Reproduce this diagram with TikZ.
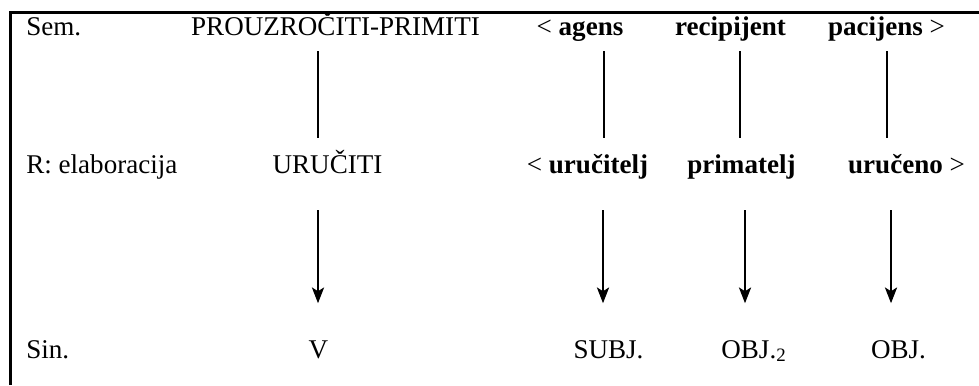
\documentclass[tikz,border=0pt]{standalone}
\usepackage{fontspec}
\setmainfont{Liberation Serif}
\usetikzlibrary{arrows.meta, calc}

\begin{document}
\begin{tikzpicture}[x=0.02cm, y=-0.02cm, >={Stealth[length=9pt, width=7pt, inset=2.2pt]}]
\fontsize{15.4}{18}\selectfont
\tikzset{lbl/.style={anchor=base, inner sep=0pt, text height=11pt, text depth=3pt},
  rowname/.style={lbl, anchor=base west},
  link/.style={line width=0.6pt, shorten <=5.5pt, shorten >=8.8pt},
  maps/.style={->, line width=0.6pt, shorten <=18pt, shorten >=20pt}}
\useasboundingbox (0,0) rectangle (979,385);
% frame
\draw[line width=1.2pt] (10.5,385) -- (10.5,12.5) -- (979,12.5);
% row: Sem.
\node[rowname] at (26,36)  (sem)   {Sem.};
\node[lbl] at (335.5,36)   (pp)    {PROUZROČITI-PRIMITI};
\node[lbl] at (580,36)     (agens) {< \textbf{agens}};
\node[lbl] at (730.5,36)   (recip) {\textbf{recipijent}};
\node[lbl] at (886.5,36)   (pac)   {\textbf{pacijens} >};
% row: R
\node[rowname] at (26,173) (ela)   {R: elaboracija};
\node[lbl] at (327.5,173)  (uru)   {URUČITI};
\node[lbl] at (587.5,173)  (urt)   {< \textbf{uručitelj}};
\node[lbl] at (741.5,173)  (prim)  {\textbf{primatelj}};
\node[lbl] at (906.5,173)  (urn)   {\textbf{uručeno} >};
% row: Sin.
\node[rowname] at (26,358) (sin)   {Sin.};
\node[lbl] at (318.5,358)  (verb)  {V};
\node[lbl] at (608.5,358)  (subj)  {SUBJ.};
\node[lbl] at (754,358)    (objb)  {OBJ.\textsubscript{2}};
\node[lbl] at (898.5,358)  (obja)  {OBJ.};
% columns
\coordinate (c1) at (318,0);
\coordinate (c2) at (604,0);
\coordinate (c3) at (740,0);
\coordinate (c4) at (887,0);
\coordinate (d2) at (603,0);
\coordinate (d3) at (745,0);
\coordinate (d4) at (891,0);
\draw[link] (pp.south -| c1) -- (uru.north -| c1);
\draw[link] (agens.south -| c2) -- (urt.north -| c2);
\draw[link] (recip.south -| c3) -- (prim.north -| c3);
\draw[link] (pac.south -| c4) -- (urn.north -| c4);
\draw[maps] (uru.south -| c1) -- (verb.north -| c1);
\draw[maps] (urt.south -| d2) -- (subj.north -| d2);
\draw[maps] (prim.south -| d3) -- (objb.north -| d3);
\draw[maps] (urn.south -| d4) -- (obja.north -| d4);
\end{tikzpicture}
\end{document}
